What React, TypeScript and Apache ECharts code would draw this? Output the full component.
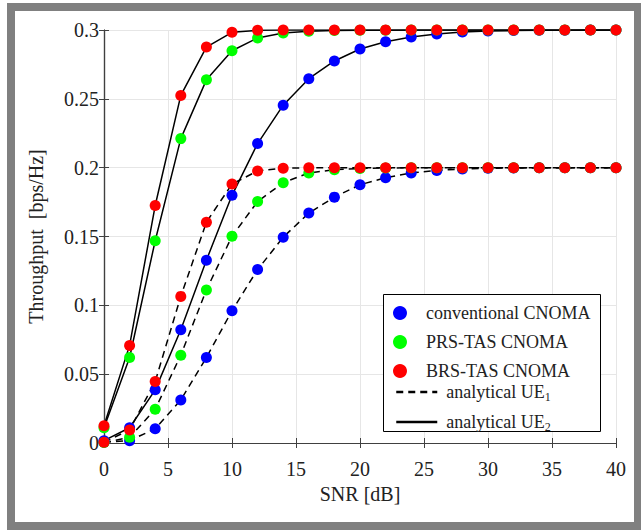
import React, { useEffect, useRef } from "react";
import * as echarts from "echarts";

const snr = [0, 2, 4, 6, 8, 10, 12, 14, 16, 18, 20, 22, 24, 26, 28, 30, 32, 34, 36, 38, 40];

const convUE2 = [0.0017, 0.0111, 0.0386, 0.0823, 0.1328, 0.1799, 0.2175, 0.2454, 0.2646, 0.2775, 0.2862, 0.2915, 0.2949, 0.2971, 0.2985, 0.2992, 0.2996, 0.2998, 0.2999, 0.3, 0.3];
const prsUE2 = [0.011, 0.0621, 0.1469, 0.2211, 0.2638, 0.2849, 0.2942, 0.2978, 0.2991, 0.2996, 0.2998, 0.2999, 0.3, 0.3, 0.3, 0.3, 0.3, 0.3, 0.3, 0.3, 0.3];
const brsUE2 = [0.0125, 0.0709, 0.1725, 0.2525, 0.2876, 0.2983, 0.2998, 0.3, 0.3, 0.3, 0.3, 0.3, 0.3, 0.3, 0.3, 0.3, 0.3, 0.3, 0.3, 0.3, 0.3];

const convUE1 = [0.0005, 0.0017, 0.0104, 0.0313, 0.0621, 0.0961, 0.126, 0.1495, 0.167, 0.1786, 0.1876, 0.1927, 0.1962, 0.198, 0.199, 0.1995, 0.1998, 0.1999, 0.2, 0.2, 0.2];
const prsUE1 = [0.0003, 0.0041, 0.0245, 0.0638, 0.1112, 0.1502, 0.1754, 0.1891, 0.1962, 0.1985, 0.1994, 0.1998, 0.1999, 0.2, 0.2, 0.2, 0.2, 0.2, 0.2, 0.2, 0.2];
const brsUE1 = [0.0006, 0.0095, 0.0447, 0.1065, 0.1604, 0.1881, 0.1976, 0.1996, 0.1999, 0.2, 0.2, 0.2, 0.2, 0.2, 0.2, 0.2, 0.2, 0.2, 0.2, 0.2, 0.2];

const schemeNames = ["conventional CNOMA", "PRS-TAS CNOMA", "BRS-TAS CNOMA"];
const schemeColors = ["#0000ff", "#00ff00", "#ff0000"];
const analyticNames = ["analytical UE1", "analytical UE2"];

const xTicks = { min: 0, max: 40, interval: 5 };
const yTicks = { min: 0, max: 0.3, interval: 0.05 };

const FONT = "Liberation Serif";

const pairs = (ys: number[]) => snr.map((x, i) => [x, ys[i]]);

export default function App() {
  const ref = useRef<HTMLDivElement>(null);
  useEffect(() => {
    if (!ref.current) return;
    const chart = echarts.init(ref.current, null, { renderer: "svg" });
    const ue1 = [convUE1, prsUE1, brsUE1];
    const ue2 = [convUE2, prsUE2, brsUE2];
    const lineSeries: any[] = [];
    for (let k = 0; k < 3; k++) {
      lineSeries.push({
        type: "line",
        name: analyticNames[0],
        data: pairs(ue1[k]),
        symbol: "none",
        lineStyle: { color: "#000", width: 1.5, type: [7, 5] },
        itemStyle: { color: "#000" },
        z: 2,
      });
      lineSeries.push({
        type: "line",
        name: analyticNames[1],
        data: pairs(ue2[k]),
        symbol: "none",
        lineStyle: { color: "#000", width: 1.5, type: "solid" },
        itemStyle: { color: "#000" },
        z: 2,
      });
    }
    const scatterSeries: any[] = [];
    for (let k = 0; k < 3; k++) {
      for (const ys of [ue1[k], ue2[k]]) {
        scatterSeries.push({
          type: "scatter",
          name: schemeNames[k],
          data: pairs(ys),
          symbol: "circle",
          symbolSize: 11,
          itemStyle: { color: schemeColors[k], opacity: 1 },
          z: 3,
        });
      }
    }
    const serif = { fontFamily: FONT, fontSize: 20, color: "#222" };
    const axisLine = { show: true, lineStyle: { color: "#404040", width: 1.2 } };
    const tickInside = { show: true, inside: true, length: 5, lineStyle: { color: "#404040", width: 1 } };
    chart.setOption({
      animation: false,
      backgroundColor: "#fff",
      textStyle: { fontFamily: FONT, color: "#222" },
      grid: { left: 104, right: 25, top: 30, bottom: 87, containLabel: false },
      graphic: [
        { type: "rect", z: -10, silent: true, shape: { x: 7, y: 3, width: 634, height: 527 }, style: { fill: "#808080" } },
        { type: "rect", z: -9, silent: true, shape: { x: 15, y: 11, width: 619, height: 511 }, style: { fill: "#ffffff" } },
        { type: "rect", z: 50, silent: true, shape: { x: 383.5, y: 294.5, width: 217, height: 137 }, style: { fill: "#ffffff", stroke: "#000", lineWidth: 1 } },
      ],
      legend: [
        {
          data: schemeNames,
          orient: "vertical",
          left: 393,
          top: 304,
          padding: 0,
          itemWidth: 14,
          itemHeight: 14,
          itemGap: 11,
          selectedMode: false,
          z: 60,
          icon: "circle",
          textStyle: { fontFamily: FONT, fontSize: 18, color: "#222", padding: [0, 0, 0, 14] },
        },
        {
          data: analyticNames,
          orient: "vertical",
          left: 395,
          top: 383,
          padding: 0,
          itemWidth: 41,
          itemHeight: 14,
          itemGap: 10,
          selectedMode: false,
          z: 60,
          lineStyle: { width: 2.5 },
          itemStyle: { color: "rgba(0,0,0,0)", borderWidth: 0, opacity: 0 },
          formatter: (name: string) => (name === analyticNames[0] ? "{a|analytical UE}{s|1}" : "{a|analytical UE}{s|2}"),
          textStyle: {
            fontFamily: FONT,
            fontSize: 18,
            color: "#222",
            padding: [0, 0, 0, 4],
            rich: {
              a: { fontFamily: FONT, fontSize: 18, color: "#222", lineHeight: 22 },
              s: { fontFamily: FONT, fontSize: 12, color: "#222", lineHeight: 12, verticalAlign: "bottom" },
            },
          },
        },
      ],
      xAxis: [
        {
          type: "value",
          ...xTicks,
          name: "{t|SNR [dB]}",
          nameLocation: "middle",
          nameGap: 40,
          nameTextStyle: { ...serif, rich: { t: serif } },
          axisLine,
          axisTick: tickInside,
          axisLabel: { ...serif, margin: 16, formatter: "{t|{value}}", rich: { t: serif } },
          splitLine: { show: true, lineStyle: { color: "#e6e6e6", width: 1 } },
        },
        {
          type: "value",
          position: "top",
          ...xTicks,
          axisLine,
          axisTick: tickInside,
          axisLabel: { show: false },
          splitLine: { show: false },
        },
      ],
      yAxis: [
        {
          type: "value",
          ...yTicks,
          name: "{t|Throughput  [bps/Hz]}",
          nameLocation: "middle",
          nameGap: 58,
          nameTextStyle: { ...serif, rich: { t: serif } },
          axisLine,
          axisTick: tickInside,
          axisLabel: { ...serif, margin: 5, formatter: "{t|{value}}", rich: { t: serif } },
          splitLine: { show: true, lineStyle: { color: "#e6e6e6", width: 1 } },
        },
        {
          type: "value",
          position: "right",
          ...yTicks,
          axisLine,
          axisTick: tickInside,
          axisLabel: { show: false },
          splitLine: { show: false },
        },
      ],
      series: [...lineSeries, ...scatterSeries],
    });
    return () => chart.dispose();
  }, []);
  return (
    <div
      ref={ref}
      style={{ position: "absolute", left: 0, top: 0, width: 641, height: 530 }}
    />
  );
}
